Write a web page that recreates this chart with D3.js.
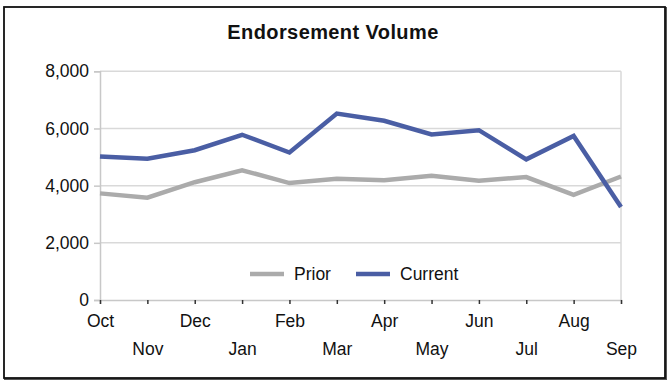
<!DOCTYPE html>
<html><head><meta charset="utf-8">
<script src="https://cdn.jsdelivr.net/npm/d3@7"></script>
<style>body{margin:0;background:#fff;} svg{display:block;font-family:"Liberation Sans",Arial,sans-serif;}</style>
</head><body>
<svg id="c" width="672" height="389"></svg>
<script>
const months = ["Oct","Nov","Dec","Jan","Feb","Mar","Apr","May","Jun","Jul","Aug","Sep"];
const prior = [3730,3580,4120,4540,4090,4240,4190,4350,4170,4300,3680,4320];
const current = [5020,4940,5240,5780,5160,6520,6270,5790,5940,4920,5740,3250];
const yTicks = [0,2000,4000,6000,8000];
const seriesNames = ["Prior","Current"];
const colors = ["#ababab","#4a5ea4"];

const svg = d3.select("#c");
const L=100, R=621, T=71.3, B=300;
const FS = 17.5;
const x = d3.scalePoint().domain(months).range([L,R]);
const y = d3.scaleLinear().domain([0,8000]).range([B,T]);

// border
svg.append("rect").attr("x",5).attr("y",8).attr("width",661).attr("height",371)
  .attr("fill","none").attr("stroke","#555").attr("stroke-width",2);
svg.append("rect").attr("x",4).attr("y",7).attr("width",661).attr("height",371)
  .attr("fill","#fff").attr("stroke","#111").attr("stroke-width",1.8);

svg.append("text").attr("x",333).attr("y",39).attr("text-anchor","middle")
  .attr("font-size",20).attr("letter-spacing",0.4).attr("font-weight","bold").attr("fill","#111").text("Endorsement Volume");

// gridlines
svg.append("g").selectAll("line").data(yTicks.slice(1)).join("line")
  .attr("x1",L).attr("x2",R).attr("y1",d=>y(d)).attr("y2",d=>y(d))
  .attr("stroke","#d9d9d9").attr("stroke-width",1.5);
svg.append("line").attr("x1",R).attr("x2",R).attr("y1",T).attr("y2",B).attr("stroke","#d9d9d9").attr("stroke-width",1.5);

// y axis
const ya = svg.append("g").attr("transform",`translate(${L},0)`)
  .call(d3.axisLeft(y).tickValues(yTicks).tickFormat(d3.format(",")).tickSize(6).tickPadding(5));
ya.select(".domain").attr("stroke","#c8c8c8").attr("stroke-width",1.5);
ya.selectAll(".tick line").attr("stroke","#c8c8c8").attr("stroke-width",1.5);
ya.selectAll("text").attr("font-size",FS).attr("fill","#111").attr("font-family","Liberation Sans, Arial, sans-serif");

// x axis
const xa = svg.append("g").attr("transform",`translate(0,${B})`)
  .call(d3.axisBottom(x).tickSize(4).tickPadding(11));
xa.select(".domain").attr("stroke","#c8c8c8").attr("stroke-width",1.5);
xa.selectAll(".tick line").attr("stroke","#333").attr("stroke-width",1.5);
xa.selectAll("text").attr("font-size",FS).attr("fill","#111").attr("font-family","Liberation Sans, Arial, sans-serif")
  .attr("dy",(d,i)=> i%2 ? "2.31em" : "0.71em");

// lines
const line = d3.line().x((d,i)=>x(months[i])).y(d=>y(d));
[prior,current].forEach((s,k)=>{
  svg.append("path").datum(s).attr("d",line).attr("fill","none")
    .attr("stroke",colors[k]).attr("stroke-width",4.5).attr("stroke-linejoin","miter");
});

// legend
const leg = [{x:250,tx:294},{x:356,tx:400}];
seriesNames.forEach((n,k)=>{
  svg.append("line").attr("x1",leg[k].x).attr("x2",leg[k].x+34).attr("y1",274).attr("y2",274)
    .attr("stroke",colors[k]).attr("stroke-width",4.5);
  svg.append("text").attr("x",leg[k].tx).attr("y",280).attr("font-size",FS).attr("fill","#111").text(n);
});
</script>
</body></html>
